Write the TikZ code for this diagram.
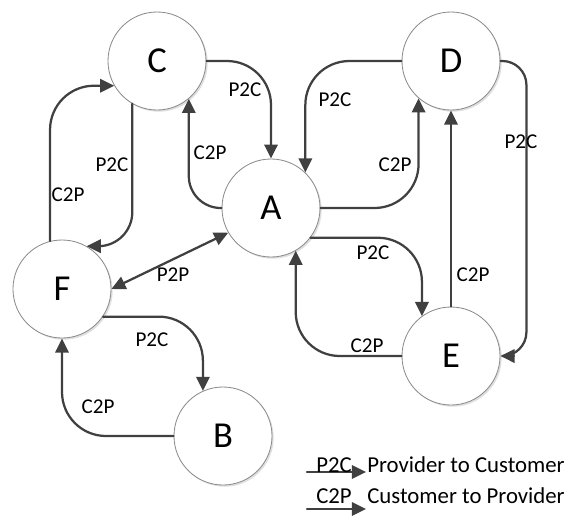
\documentclass[tikz,border=0pt]{standalone}
\usepackage{fontspec}
\setmainfont{Carlito}
\usetikzlibrary{arrows.meta, calc, shadows}
\definecolor{linkgray}{RGB}{64,64,64}
\definecolor{rimgray}{RGB}{140,140,140}

\tikzset{
	as/.style={circle, draw=rimgray, line width=0.6pt, fill=white, minimum size=2.45cm, inner sep=0pt,
		font=\fontsize{26}{26}\selectfont,
		drop shadow={shadow xshift=1.2pt, shadow yshift=-1.2pt, fill=black!25}},
	link/.style={->, linkgray, line width=1.6pt, rounded corners=1.1cm},
	rel/.style={font=\fontsize{15}{15}\selectfont, inner sep=1pt},
	key/.style={font=\fontsize{16.2}{17}\selectfont, inner sep=0pt}
}

\begin{document}
\begin{tikzpicture}[x=0.025cm, y=-0.025cm, line cap=round, line join=round, >={Triangle[length=10pt,width=9.5pt]}]
	\useasboundingbox (0,0) rectangle (567,516);

	% autonomous systems
	\node[as] (C) at (157,61) {C};
	\node[as] (D) at (451,61) {D};
	\node[as] (A) at (271,208) {A};
	\node[as] (F) at (62,289) {F};
	\node[as] (B) at (223,436) {B};
	\node[as] (E) at (451,356) {E};

	% links
	\draw [link] (C.east) -| (A.north);
	\draw [link, rounded corners=0.8cm] (A.west) -| (C.310);
	\draw [link, rounded corners=0.85cm] (C.240) |- (F.60);
	\draw [link] (F.104) |- (C.210);
	\draw [link, <->] (F.east) -- (A.210);
	\draw [link] (F.326) -| (B.114);
	\draw [link] (B.west) -| (F.south);
	\draw [link] (D.west) -| (A.46);
	\draw [link] (A.east) -| (D.229);
	\draw [link, rounded corners=0.6cm] (D.east) -| ($(E.east)+(26,0)$) -- (E.east);
	\draw [link] (E.north) -- (D.south);
	\draw [link] (A.323) -| (E.126);
	\draw [link] (E.west) -| (A.300);

	% link labels
	\node[rel] (l1) at (245,90) {P2C};
	\node[rel] (l2) at (210,153) {C2P};
	\node[rel] (l3) at (112,165) {P2C};
	\node[rel] (l4) at (68,195) {C2P};
	\node[rel] (l5) at (173,275) {P2P};
	\node[rel] (l6) at (152,340) {P2C};
	\node[rel] (l7) at (98,407) {C2P};
	\node[rel] (l8) at (335,100) {P2C};
	\node[rel] (l9) at (395,165) {C2P};
	\node[rel] (l10) at (521,142) {P2C};
	\node[rel] (l11) at (473,275) {C2P};
	\node[rel] (l12) at (373,253) {P2C};
	\node[rel] (l13) at (367,346) {C2P};

	% legend
	\coordinate (k1) at (307,472);
	\coordinate (k1e) at (366,472);
	\coordinate (k2) at (307,509);
	\coordinate (k2e) at (366,509);
	\draw [link] (k1) -- (k1e);
	\draw [link] (k2) -- (k2e);
	\node[key, anchor=base] (k1l) at (334,472) {P2C};
	\node[key, anchor=base west] (k1t) at (367,472) {Provider to Customer};
	\node[key, anchor=base] (k2l) at (334,503) {C2P};
	\node[key, anchor=base west] (k2t) at (367,503) {Customer to Provider};
\end{tikzpicture}
\end{document}
